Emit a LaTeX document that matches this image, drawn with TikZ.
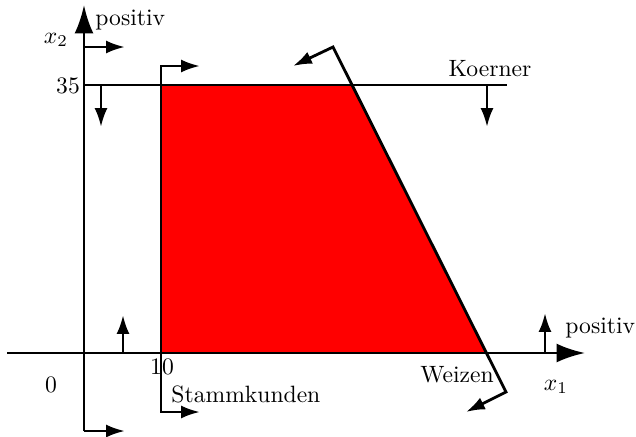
\documentclass[tikz,border=0pt]{standalone}
\usetikzlibrary{arrows.meta}
\begin{document}
\begin{tikzpicture}[x=0.4236pt,y=-0.4236pt,
  ln/.style={line width=1.2pt},
  sm/.style={-{Latex[length=8pt,width=5.5pt]}},
  bg/.style={-{Latex[length=12pt,width=8pt]}},
  smb/.style={{Latex[length=8pt,width=5.5pt]}-{Latex[length=8pt,width=5.5pt]}},
  lbl/.style={inner sep=0pt,anchor=base}]
\useasboundingbox (0,0) rectangle (636,436);
% region corners
\coordinate (A) at (161,353);
\coordinate (B) at (161,85);
\coordinate (C) at (352,85);
\coordinate (D) at (486.5,353);
\fill[red] (A) -- (B) -- (C) -- (D) -- cycle;
% y axis (x1 >= 0)
\coordinate (Ybot) at (84,431);
\coordinate (Ytop) at (84,5);
\coordinate (Ybr) at (125,431);
\coordinate (Y47) at (84,47);
\coordinate (Y47r) at (125,47);
\draw[ln,bg] (Ybot) -- (Ytop);
\draw[ln,sm] (Ybot) -- (Ybr);
\draw[ln,sm] (Y47) -- (Y47r);
% x axis
\coordinate (Xl) at (7,353);
\coordinate (Xr) at (585,353);
\draw[ln,bg] (Xl) -- (Xr);
\coordinate (U1) at (123,353); \coordinate (U1t) at (123,315);
\coordinate (U2) at (545,353); \coordinate (U2t) at (545,313);
\draw[ln,sm] (U1) -- (U1t);
\draw[ln,sm] (U2) -- (U2t);
% Stammkunden
\coordinate (S1) at (200,412); \coordinate (S2) at (161,412);
\coordinate (S3) at (161,66); \coordinate (S4) at (200,66);
\draw[ln,smb] (S1) -- (S2) -- (S3) -- (S4);
% Koerner
\coordinate (K1) at (84,85); \coordinate (K2) at (507,85);
\draw[ln] (K1) -- (K2);
\coordinate (K3) at (101,85); \coordinate (K3b) at (101,127);
\coordinate (K4) at (487,85); \coordinate (K4b) at (487,127);
\draw[ln,sm] (K3) -- (K3b);
\draw[ln,sm] (K4) -- (K4b);
% Weizen
\coordinate (W1) at (293,66); \coordinate (W2) at (333,47);
\coordinate (W3) at (506,392); \coordinate (W4) at (466,412);
\draw[ln,smb] (W1) -- (W2) -- (W3) -- (W4);
% labels
\node[lbl,anchor=base west] (pos1) at (95,25) {positiv};
\node[lbl] (x2) at (56,43) {$x_2$};
\node[lbl] (n35) at (68,93) {35};
\node[lbl] (koe) at (490,76) {Koerner};
\node[lbl,anchor=base west] (pos2) at (565,333) {positiv};
\node[lbl] (wei) at (457,382) {Weizen};
\node[lbl] (x1) at (556,390) {$x_1$};
\node[lbl] (n0) at (51,392) {0};
\node[lbl] (n10) at (162,374) {10};
\node[lbl,anchor=base west] (stk) at (171,402) {Stammkunden};
\end{tikzpicture}
\end{document}
